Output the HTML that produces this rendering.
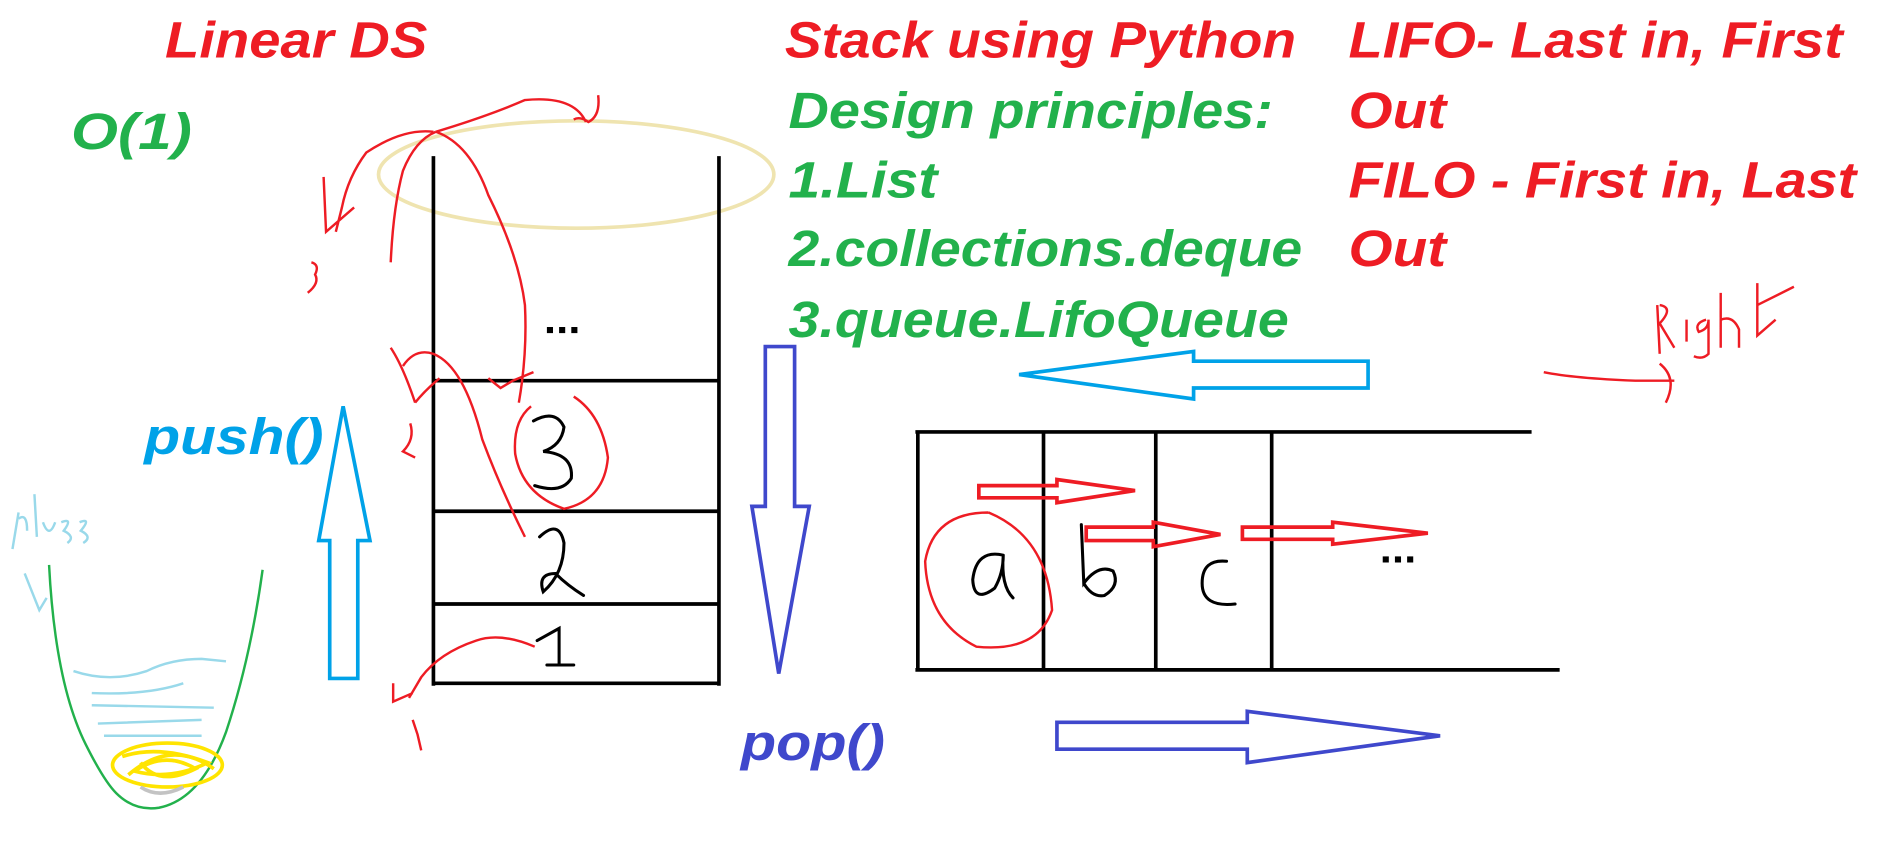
<!DOCTYPE html>
<html><head><meta charset="utf-8"><style>
html,body{margin:0;padding:0;background:#fff;width:1904px;height:859px;overflow:hidden}
svg{display:block}
text{font-family:"Liberation Sans",sans-serif;font-weight:bold;font-style:italic}
</style></head><body>
<svg width="1904" height="859" viewBox="0 0 1560 704" xmlns="http://www.w3.org/2000/svg">
<rect width="1560" height="704" fill="#fff"/>
<g font-size="42">
<text x="135" y="47" fill="#ee1c24" textLength="215" lengthAdjust="spacingAndGlyphs">Linear DS</text>
<text x="58" y="122" fill="#22b14c" textLength="99" lengthAdjust="spacingAndGlyphs">O(1)</text>
<text x="643" y="47" fill="#ee1c24" textLength="419" lengthAdjust="spacingAndGlyphs">Stack using Python</text>
<text x="646" y="105" fill="#22b14c" textLength="397" lengthAdjust="spacingAndGlyphs">Design principles:</text>
<text x="646" y="162" fill="#22b14c" textLength="122" lengthAdjust="spacingAndGlyphs">1.List</text>
<text x="646" y="218" fill="#22b14c" textLength="421" lengthAdjust="spacingAndGlyphs">2.collections.deque</text>
<text x="646" y="276" fill="#22b14c" textLength="410" lengthAdjust="spacingAndGlyphs">3.queue.LifoQueue</text>
<text x="1105" y="47" fill="#ee1c24" textLength="405" lengthAdjust="spacingAndGlyphs">LIFO- Last in, First</text>
<text x="1105" y="105" fill="#ee1c24" textLength="80" lengthAdjust="spacingAndGlyphs">Out</text>
<text x="1105" y="162" fill="#ee1c24" textLength="416" lengthAdjust="spacingAndGlyphs">FILO - First in, Last</text>
<text x="1105" y="218" fill="#ee1c24" textLength="80" lengthAdjust="spacingAndGlyphs">Out</text>
<text x="118" y="372" fill="#00a2e8" textLength="147" lengthAdjust="spacingAndGlyphs">push()</text>
<text x="607" y="623" fill="#3f48cc" textLength="118" lengthAdjust="spacingAndGlyphs">pop()</text>
</g>
<!-- beige ellipse -->
<ellipse cx="472" cy="143" rx="162" ry="44" fill="none" stroke="#efe4b0" stroke-width="3"/>
<!-- stack -->
<g stroke="#000" stroke-width="3" fill="none">
<line x1="355" y1="128" x2="355" y2="562"/>
<line x1="589" y1="128" x2="589" y2="562"/>
<line x1="355" y1="312" x2="590" y2="312"/>
<line x1="355" y1="419" x2="590" y2="419"/>
<line x1="355" y1="495" x2="590" y2="495"/>
<line x1="355" y1="560" x2="590" y2="560"/>
<!-- queue -->
<line x1="750" y1="354" x2="1255" y2="354"/>
<line x1="750" y1="549" x2="1278" y2="549"/>
<line x1="752" y1="354" x2="752" y2="549"/>
<line x1="855" y1="354" x2="855" y2="549"/>
<line x1="947" y1="354" x2="947" y2="549"/>
<line x1="1042" y1="354" x2="1042" y2="549"/>
</g>
<g fill="#000"><rect x="448" y="268" width="5" height="5"/><rect x="458" y="268" width="5" height="5"/><rect x="468" y="268" width="5" height="5"/>
<rect x="1133" y="456" width="5" height="5"/><rect x="1143" y="456" width="5" height="5"/><rect x="1153" y="456" width="5" height="5"/></g>
<!-- handwritten digits -->
<g stroke="#000" stroke-width="2.5" fill="none" stroke-linecap="round">
<path d="M437 345 Q455 335 462 350 Q460 365 445 370 Q470 372 468 392 Q460 405 438 398"/>
<path d="M442 440 Q458 425 462 445 Q462 470 445 485 Q440 470 455 470 Q465 480 478 488"/>
<path d="M440 525 L458 515 L458 545 M448 545 L470 545"/>
<path d="M822 455 Q800 450 797 475 Q798 495 815 482 Q822 470 822 455 Q820 480 830 490"/>
<path d="M886 430 L888 478 Q900 462 912 468 Q918 480 905 488 Q895 490 888 478"/>
<path d="M1005 460 Q985 458 985 478 Q985 498 1012 495"/>
</g>
<!-- red circles -->
<g stroke="#ee1c24" stroke-width="2" fill="none">
<path d="M435 333 Q420 345 422 372 Q428 405 462 417 Q495 410 498 375 Q493 340 470 325"/>
<path d="M810 420 Q765 420 758 460 Q760 510 800 530 Q850 535 862 500 Q858 440 810 420"/>
<!-- top annotation curves -->
<path d="M357 108 Q400 95 430 82 Q470 78 480 100 M490 78 Q492 95 482 100 Q475 95 470 98"/>
<path d="M357 108 Q340 115 330 140 Q322 170 320 215"/>
<path d="M355 108 Q330 105 300 125 Q285 145 280 170 L275 190 M265 145 L267 190 L290 170"/>
<path d="M357 108 Q385 118 400 160 Q425 210 430 250 Q432 290 425 330"/>
<path d="M320 285 Q330 300 340 330 M330 300 Q340 285 355 290 Q380 300 395 360 Q410 400 430 440"/>
<path d="M340 330 Q348 320 360 310 M400 310 L410 318 L420 312 L437 305"/>
<path d="M255 215 Q262 217 258 225 Q262 232 252 240"/>
<path d="M336 347 Q340 360 330 370 L340 375"/>
<path d="M438 530 Q410 518 390 525 Q360 535 345 555 L335 572 M322 560 L322 575 L338 568"/>
<path d="M338 590 L342 602 L345 615"/>
<!-- right annotation -->
<path d="M1265 305 Q1290 310 1340 312 L1372 312 M1360 298 Q1375 310 1365 330"/>
<path d="M1358 250 L1360 290 M1360 250 Q1372 252 1360 265 L1372 285 M1382 262 L1382 280 M1398 262 Q1388 265 1392 272 Q1400 270 1400 262 L1400 290 Q1395 295 1388 292 M1410 240 L1410 285 M1410 262 Q1420 258 1425 270 L1425 285 M1440 232 L1440 275 L1455 262 M1440 250 L1470 235"/>
</g>
<!-- small red arrows -->
<g stroke="#ee1c24" stroke-width="3" fill="none">
<path d="M802 398 L866 398 L866 393 L930 402 L866 412 L866 408 L802 408 Z"/>
<path d="M890 432 L945 432 L945 428 L1000 438 L945 448 L945 443 L890 443 Z"/>
<path d="M1018 432 L1092 432 L1092 428 L1170 437 L1092 446 L1092 442 L1018 442 Z"/>
</g>
<!-- blue arrows -->
<path d="M270 556 L270 443 L261 443 L281 333 L303 443 L293 443 L293 556 Z" fill="none" stroke="#00a2e8" stroke-width="3"/>
<path d="M627 284 L651 284 L651 415 L663 415 L638 552 L616 415 L627 415 Z" fill="none" stroke="#3f48cc" stroke-width="3"/>
<path d="M835 307 L978 288 L978 296 L1121 296 L1121 318 L978 318 L978 327 Z" fill="none" stroke="#00a2e8" stroke-width="3"/>
<path d="M866 592 L1022 592 L1022 583 L1180 603 L1022 625 L1022 614 L866 614 Z" fill="none" stroke="#3f48cc" stroke-width="3"/>
<!-- glass -->
<path d="M40 463 Q45 560 70 610 Q85 640 95 650 Q110 665 130 662 Q165 655 185 600 Q205 540 215 467" fill="none" stroke="#22b14c" stroke-width="2"/>
<g stroke="#99d9ea" stroke-width="2" fill="none">
<path d="M10 450 L15 420 M15 425 Q22 420 22 435 M28 405 L30 440 M35 428 Q40 442 45 428 M50 428 Q60 424 52 435 Q62 440 55 445 M65 428 Q75 424 66 435 Q76 440 68 445"/>
<path d="M20 470 L32 500 L38 490"/>
<path d="M60 550 Q90 560 120 550 Q140 540 165 540 L185 542"/>
<path d="M75 568 Q120 570 150 560 M75 578 L175 580"/>
<path d="M80 593 L165 590 M85 603 L165 603"/>
</g>
<g stroke="#ffe400" stroke-width="3" fill="none">
<ellipse cx="137" cy="627" rx="45" ry="18"/>
<path d="M100 620 Q130 610 170 625 Q140 640 110 632 Q135 615 160 630 Q130 645 115 625"/>
<path d="M105 635 Q140 605 175 630"/>
</g>
<path d="M115 645 Q130 655 150 645" stroke="#c3c3c3" stroke-width="3" fill="none"/>
</svg>
</body></html>
